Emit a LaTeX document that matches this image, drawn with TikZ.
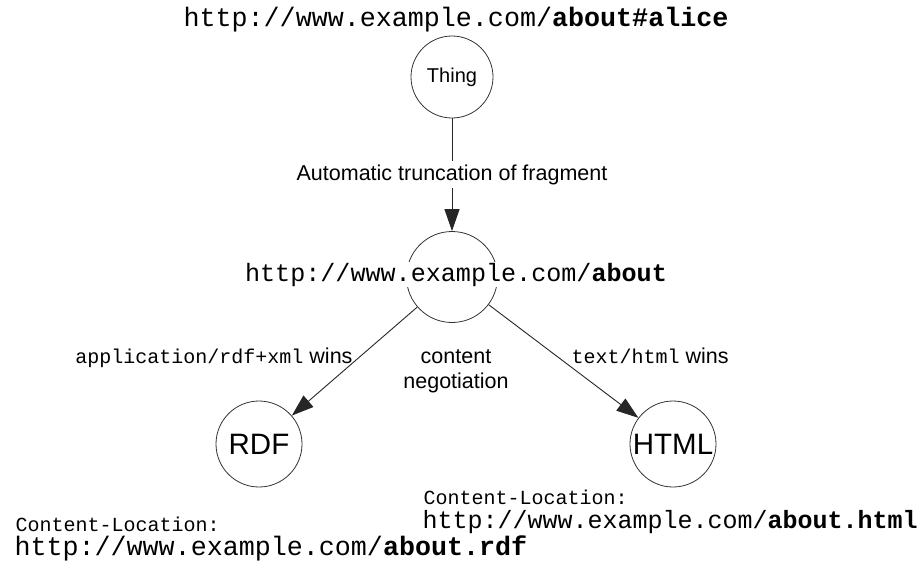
\documentclass[tikz,border=0pt]{standalone}
\usepackage{fontspec}
\setmainfont{Liberation Sans}
\setmonofont{Liberation Mono}
\usetikzlibrary{arrows.meta}

\begin{document}
\begin{tikzpicture}[x=1pt,y=-1pt,
    res/.style={draw=black!80,circle,line width=0.8pt,inner sep=0pt},
    link/.style={draw=black!85,line width=0.9pt,-{Triangle[length=22pt,width=15pt]}},
    url/.style={font=\fontsize{#1}{#1}\selectfont\ttfamily},
    url/.default=26,
    small/.style={font=\fontsize{21.5}{25}\selectfont},
    smalltt/.style={font=\fontsize{20}{24}\selectfont\ttfamily}]
    \useasboundingbox (0,0) rectangle (918,566);
    % Draw the resources
    \node[res,minimum size=82pt,font=\fontsize{20}{24}\selectfont] (thing) at (452,77) {Thing};
    \node[res,minimum size=91pt] (about) at (452,277) {};
    \node[res,minimum size=86pt,font=\fontsize{29.5}{34}\selectfont] (rdf) at (259,444) {RDF};
    \node[res,minimum size=86pt,font=\fontsize{29.5}{34}\selectfont] (html) at (673,444) {HTML};
    % Add the URIs
    \node[url=26.7,anchor=base] (alice) at (456,26) {http://www.example.com/\textbf{about\#alice}};
    \node[url=25.1,anchor=base,fill=white,inner sep=1pt] (abouturi) at (456,281) {http://www.example.com/\textbf{about}};
    % Truncation and negotiation
    \draw[link] (thing) -- node[small,fill=white] (trunc) {Automatic truncation of fragment} (about);
    \draw[link] (about) -- (rdf);
    \draw[link] (about) -- (html);
    \node[small,anchor=base east] (rdfwins) at (356,363) {{\fontsize{20}{24}\selectfont\ttfamily application/rdf+xml} wins};
    \node[small,anchor=base west] (htmlwins) at (568,363) {{\fontsize{20}{24}\selectfont\ttfamily text/html} wins};
    \node[small,align=center] (conneg) at (456,371) {content\\negotiation};
    % Content-Location headers
    \node[smalltt,anchor=base west] (rdfhead) at (12,531) {Content-Location:};
    \node[url=26.7,anchor=base west] (rdfloc) at (11,555) {http://www.example.com/\textbf{about.rdf}};
    \node[smalltt,anchor=base west] (htmlhead) at (420,504) {Content-Location:};
    \node[url=25,anchor=base west] (htmlloc) at (419,528) {http://www.example.com/\textbf{about.html}};
\end{tikzpicture}
\end{document}
